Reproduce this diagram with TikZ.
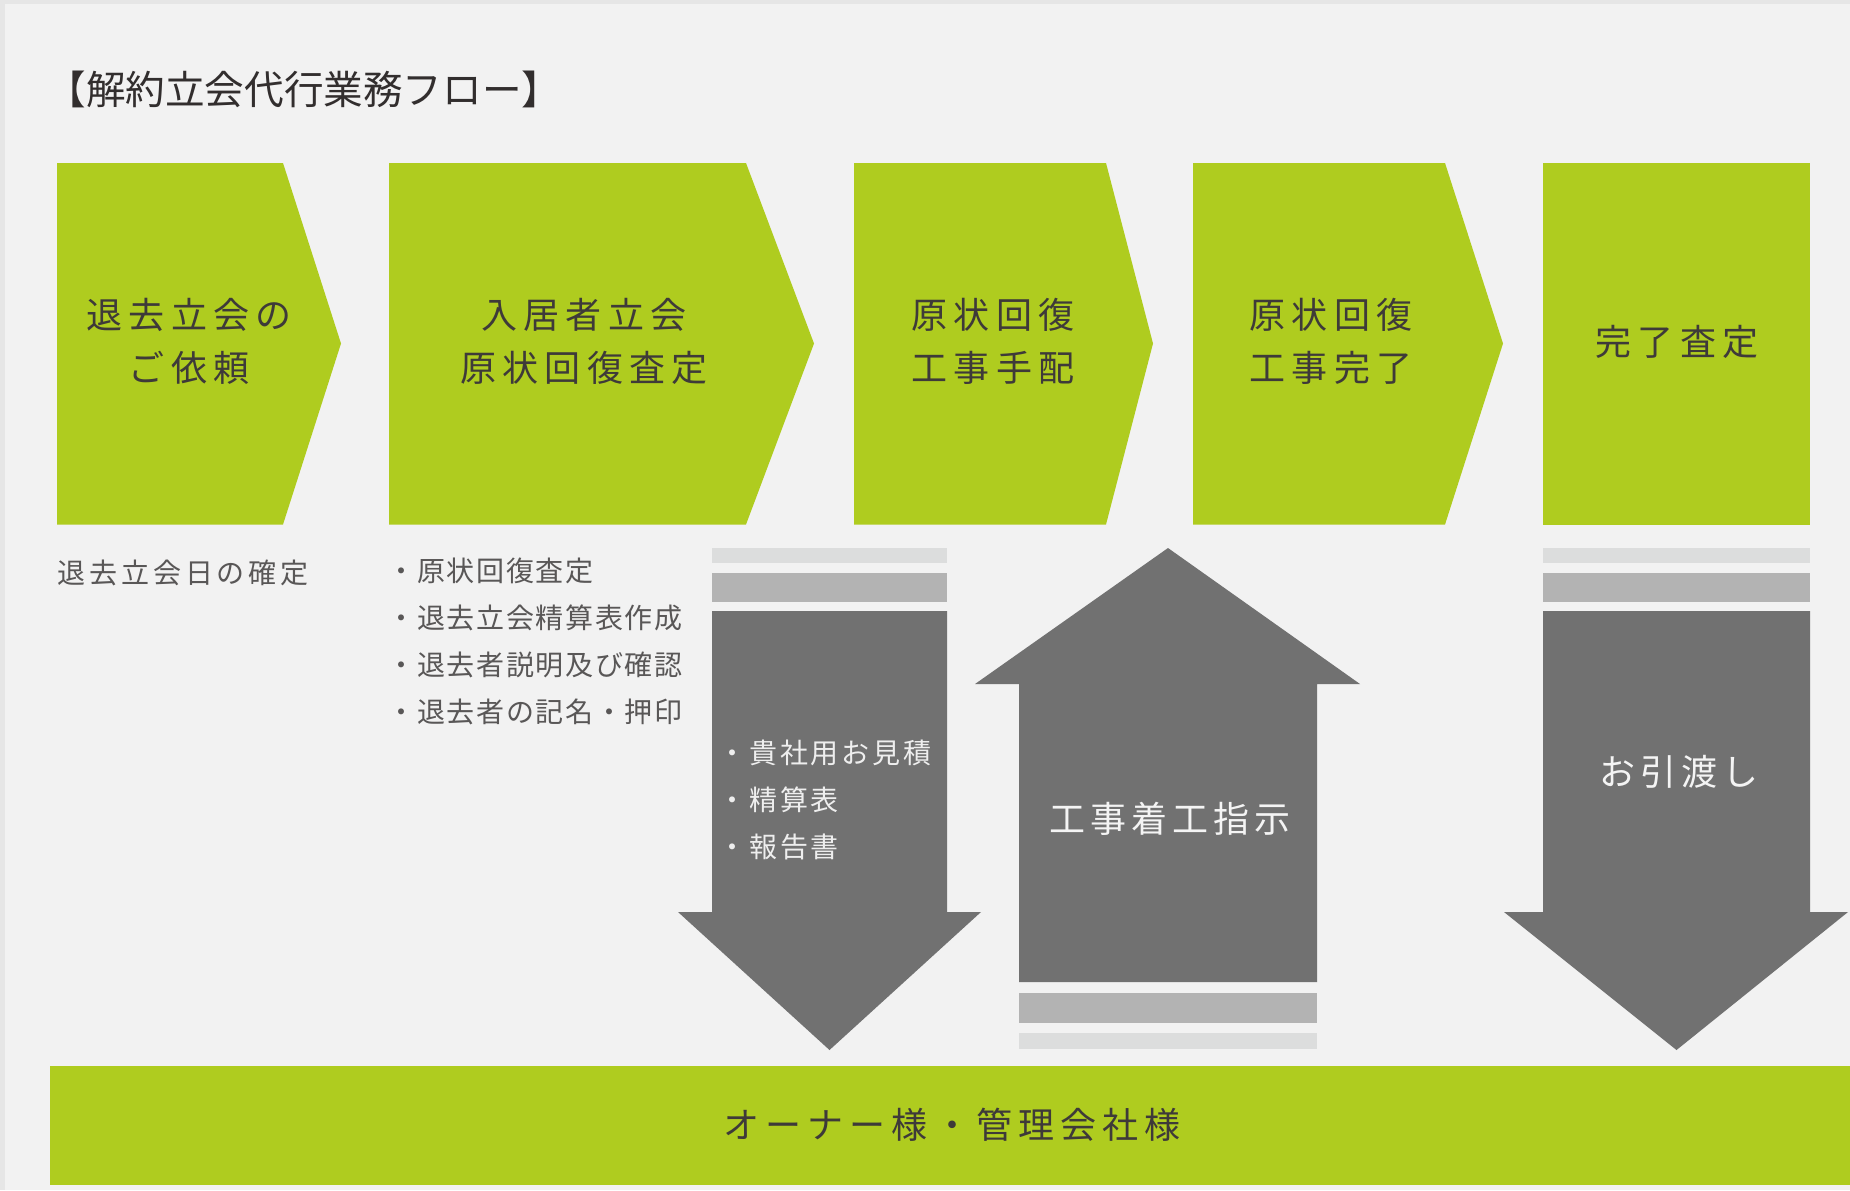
\documentclass[tikz,border=0pt]{standalone}
\usepackage{fontspec}
\newfontfamily\jp{Noto Sans CJK JP}
\newfontfamily\jpsp[LetterSpace=14]{Noto Sans CJK JP}
\newfontfamily\jpwide[LetterSpace=17]{Noto Sans CJK JP}
\newfontfamily\jpnote[LetterSpace=6]{Noto Sans CJK JP}
\newfontfamily\jpsmall[LetterSpace=10]{Noto Sans CJK JP}
\definecolor{bg}{HTML}{F2F2F2}
\definecolor{edge}{HTML}{E6E6E6}
\definecolor{leaf}{HTML}{AFCC1F}
\definecolor{darkg}{HTML}{717171}
\definecolor{midg}{HTML}{B3B3B3}
\definecolor{lightg}{HTML}{DCDDDD}
\definecolor{ink}{HTML}{3E3A39}
\definecolor{subink}{HTML}{595757}
\tikzset{
  stepshape/.style={fill=leaf, draw=none},
  arrowshape/.style={fill=darkg, draw=none},
  steptext/.style={inner sep=0pt, align=center, text=ink, font=\jpwide\fontsize{18pt}{26.5pt}\selectfont},
  notetext/.style={inner sep=0pt, anchor=west, text=subink, font=\jpnote\fontsize{14pt}{18pt}\selectfont},
  arrowtext/.style={inner sep=0pt, text=white!92!darkg, font=\jpsp\fontsize{18pt}{22pt}\selectfont},
  smallwhite/.style={inner sep=0pt, anchor=west, text=white!88!darkg, font=\jpsmall\fontsize{14pt}{18pt}\selectfont}
}
\begin{document}
\begin{tikzpicture}[x=0.5pt,y=-0.5pt]
\useasboundingbox (0,0) rectangle (1850,1190);
\fill[edge] (0,0) rectangle (1850,1190);
\fill[bg] (5,4) rectangle (1850,1190);

% title
\node[inner sep=0pt, anchor=west, text=ink!80!black, font=\jp\fontsize{19.8pt}{24pt}\selectfont] (title) at (46,89) {【解約立会代行業務フロー】};

% step shapes
\fill[stepshape] (57,163) -- (283,163) -- (341,343.5) -- (283,524.5) -- (57,524.5) -- cycle;
\fill[stepshape] (389,163) -- (746,163) -- (814,343.5) -- (746,524.5) -- (389,524.5) -- cycle;
\fill[stepshape] (854,163) -- (1106,163) -- (1153,343.5) -- (1106,524.5) -- (854,524.5) -- cycle;
\fill[stepshape] (1193,163) -- (1445,163) -- (1503,343.5) -- (1445,524.5) -- (1193,524.5) -- cycle;
\fill[stepshape] (1543,163) rectangle (1810,524.5);

\node[steptext] (s1) at (189,341.5) {退去立会の\\ご依頼};
\node[steptext] (s2) at (584,341.5) {入居者立会\\原状回復査定};
\node[steptext] (s3) at (993,341.5) {原状回復\\工事手配};
\node[steptext] (s4) at (1331,341.5) {原状回復\\工事完了};
\node[steptext] (s5) at (1677,341.5) {完了査定};

% notes under steps
\node[notetext] (n1) at (57,573) {\jpsp 退去立会日の確定};
\node[notetext] (b1) at (387,571) {・原状回復査定};
\node[notetext] (b2) at (387,618) {・退去立会精算表作成};
\node[notetext] (b3) at (387,665) {・退去者説明及び確認};
\node[notetext] (b4) at (387,712) {・退去者の記名・押印};

% left down arrow
\fill[lightg] (712,548) rectangle (947,563);
\fill[midg] (712,573) rectangle (947,602);
\fill[arrowshape] (712,611) -- (947,611) -- (947,912) -- (981,912) -- (829.5,1050) -- (678,912) -- (712,912) -- cycle;
\node[smallwhite] (a1) at (718,753) {・貴社用お見積};
\node[smallwhite] (a2) at (718,800) {・精算表};
\node[smallwhite] (a3) at (718,847) {・報告書};

% up arrow
\fill[arrowshape] (1168,548) -- (1360,684) -- (1317,684) -- (1317,982) -- (1019,982) -- (1019,684) -- (975,684) -- cycle;
\fill[midg] (1019,993) rectangle (1317,1023);
\fill[lightg] (1019,1033) rectangle (1317,1049);
\node[arrowtext] (up) at (1170,819) {工事着工指示};

% right down arrow
\fill[lightg] (1543,548) rectangle (1810,563);
\fill[midg] (1543,573) rectangle (1810,602);
\fill[arrowshape] (1543,611) -- (1810,611) -- (1810,912) -- (1848,912) -- (1676.5,1050) -- (1504,912) -- (1543,912) -- cycle;
\node[arrowtext] (dn) at (1679,772) {お引渡し};

% bottom band
\fill[stepshape] (50,1066) rectangle (1850,1185);
\node[inner sep=0pt, text=ink, font=\jpwide\fontsize{18pt}{22pt}\selectfont] (owner) at (952,1125) {オーナー様・管理会社様};
\end{tikzpicture}
\end{document}
